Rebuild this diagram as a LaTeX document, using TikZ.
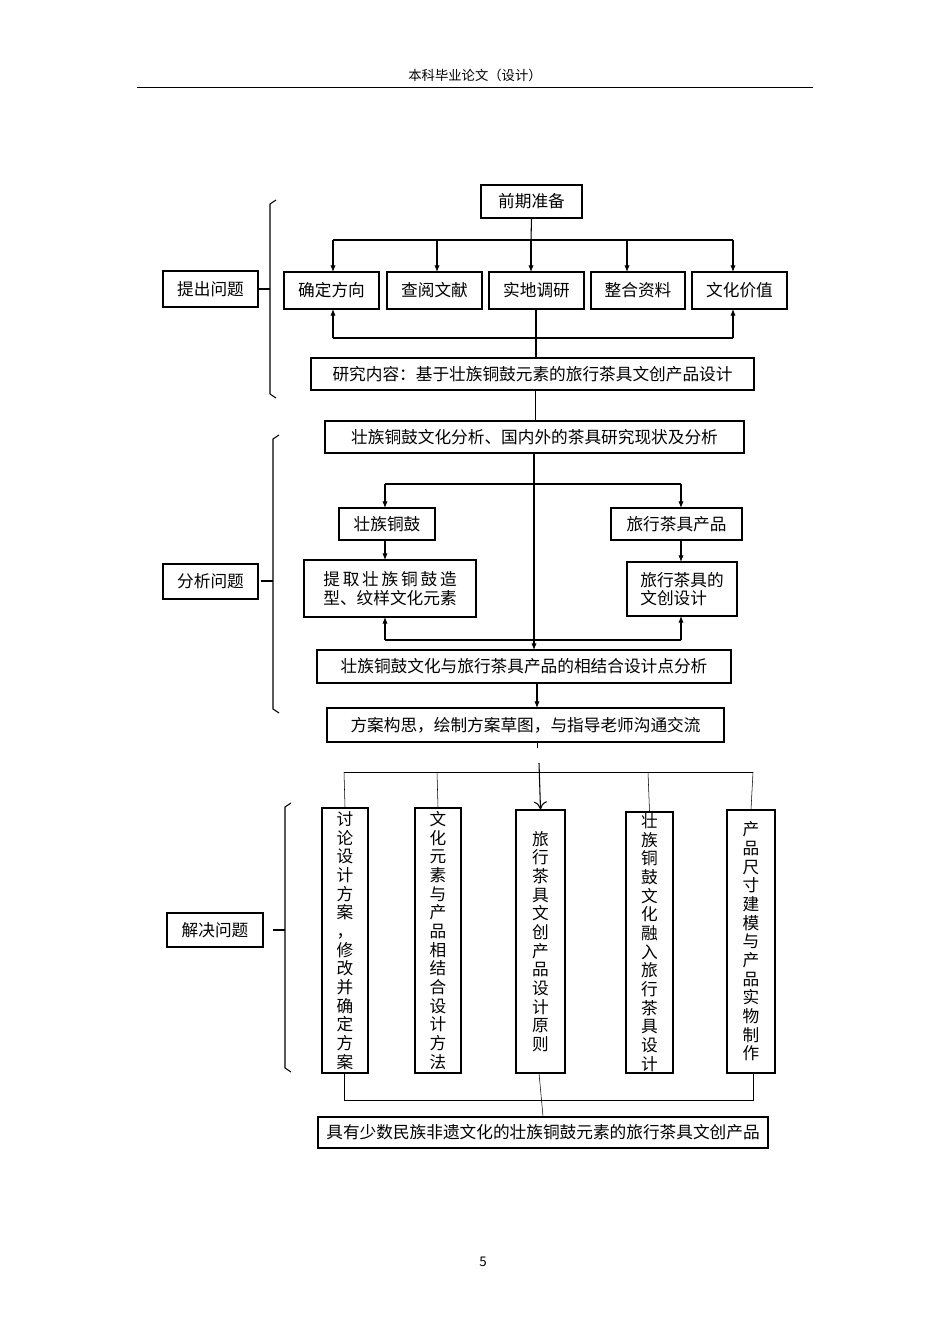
\documentclass[tikz,border=0pt]{standalone}
\usepackage{fontspec}
\setmainfont{Noto Sans CJK SC}
\usetikzlibrary{arrows.meta}
\newcommand\bx[6]{\node[box,minimum width={(#4-#2)*0.75pt},minimum height={(#5-#3)*0.75pt}] (#1) at ({(#2+#4)/2},{(#3+#5)/2}) {#6};}
\newcommand\brk[4]{% name x ytop ybot ; tick y
  \draw[thick] (#1+6,#2) -- (#1,#2+4) -- (#1,#3-4) -- (#1+6,#3);
  \draw[very thick] (#1,#4) -- (#1-12,#4);}
\begin{document}
\begin{tikzpicture}[x=0.75pt,y=-0.75pt,
  box/.style={draw,thick,inner sep=1pt,font=\fontsize{12.5}{14}\selectfont,align=center},
  vbox/.style={draw,thick,inner sep=0pt,font=\fontsize{12.5}{13.4}\selectfont,align=center,anchor=north},
  arr/.style={-{Latex[length=5pt,width=4pt]}},
  ln/.style={thick}]
\useasboundingbox[fill=white] (0,0) rectangle (950,1344);
\node[font=\fontsize{10}{12}\selectfont] (hdr) at (475,75) {本科毕业论文（设计）};
\draw (137,87) -- (813,87);
\node[font=\fontsize{10}{12}\selectfont] (pg) at (483,1262) {5};
% ---- section 1
\bx{pre}{481}{185}{582}{218}{前期准备}
\bx{b1}{284}{272}{379}{309}{确定方向}
\bx{b2}{387}{272}{482}{309}{查阅文献}
\bx{b3}{489}{272}{584}{309}{实地调研}
\bx{b4}{591}{272}{685}{309}{整合资料}
\bx{b5}{692}{272}{787}{309}{文化价值}
\bx{res}{311}{358}{754}{390}{研究内容：基于壮族铜鼓元素的旅行茶具文创产品设计}
\bx{q1}{163}{271}{258}{307}{提出问题}
\coordinate (t1) at (531,240);
\draw[ln] (pre.south) -- (t1);
\draw[ln] (333,240) -- (733,240);
\foreach \x/\b in {333/b1,437/b2,531/b3,627/b4,733/b5} \draw[ln,arr] (\x,240) -- (\x,272);
\draw[ln] (536,309) -- (536,358);
\draw[ln] (333,338) -- (733,338);
\draw[ln,arr] (333,338) -- (333,309);
\draw[ln,arr] (733,338) -- (733,309);
\brk{270}{200}{398}{289}
% ---- section 2
\bx{ana}{325}{421}{744}{453}{壮族铜鼓文化分析、国内外的茶具研究现状及分析}
\draw (535,390) -- (535,421);
\bx{tg}{339}{508}{435}{540}{壮族铜鼓}
\bx{lx}{611}{508}{742}{540}{旅行茶具产品}
\bx{tq}{304}{560}{476}{617}{提\,取\,壮\,族\,铜\,鼓\,造\\型、纹样文化元素}
\bx{wc}{627}{562}{737}{616}{旅行茶具的\\文创设计\quad\ }
\bx{com}{317}{650}{731}{683}{壮族铜鼓文化与旅行茶具产品的相结合设计点分析}
\bx{fa}{327}{708}{724}{742}{方案构思，绘制方案草图，与指导老师沟通交流}
\bx{q2}{163}{564}{258}{599}{分析问题}
\draw[ln] (385,484) -- (681,484);
\draw[ln,arr] (385,484) -- (385,508);
\draw[ln,arr] (681,484) -- (681,508);
\draw[ln,arr] (385,540) -- (385,560);
\draw[ln,arr] (681,540) -- (681,562);
\draw[ln] (385,640) -- (681,640);
\draw[ln,arr] (385,640) -- (385,617);
\draw[ln,arr] (681,640) -- (681,616);
\draw[ln,arr] (534,453) -- (534,650);
\draw[ln,arr] (537,683) -- (537,708);
\draw (537,742) -- (537,748);
\brk{273}{435}{713}{581}
% ---- section 3
\bx{q3}{167}{913}{263}{947}{解决问题}
\foreach \n/\xa/\xb/\ya/\t in {
 v1/322/368/808/{讨\\论\\设\\计\\方\\案\\，\\修\\改\\并\\确\\定\\方\\案},
 v2/415/461/808/{文\\化\\元\\素\\与\\产\\品\\相\\结\\合\\设\\计\\方\\法},
 v3/516/565/810/{旅\\行\\茶\\具\\文\\创\\产\\品\\设\\计\\原\\则},
 v4/626/673/812/{壮\\族\\铜\\鼓\\文\\化\\融\\入\\旅\\行\\茶\\具\\设\\计},
 v5/727/775/810/{产\\品\\尺\\寸\\建\\模\\与\\产\\品\\实\\物\\制\\作}}
{\node[box,minimum width={(\xb-\xa)*0.75pt},minimum height={(1073-\ya)*0.75pt}] (\n) at ({(\xa+\xb)/2},{(\ya+1073)/2}) {\t};}
\draw (344,772) -- (753,772);
\draw (344,772) -- (v1.north);
\draw (437,772) -- (v2.north);
\draw (648,772) -- (v4.north);
\draw (753,772) -- (v5.north);
\draw[thick,-{To[length=6pt,width=10pt]}] (539,763) -- (v3.north);
\bx{fin}{318}{1117}{768}{1148}{具有少数民族非遗文化的壮族铜鼓元素的旅行茶具文创产品}
\draw (344,1073) -- (344,1100) -- (753,1100) -- (753,1073);
\draw (539,1073) -- (fin.north);
\brk{285}{803}{1072}{930}
\end{tikzpicture}
\end{document}
